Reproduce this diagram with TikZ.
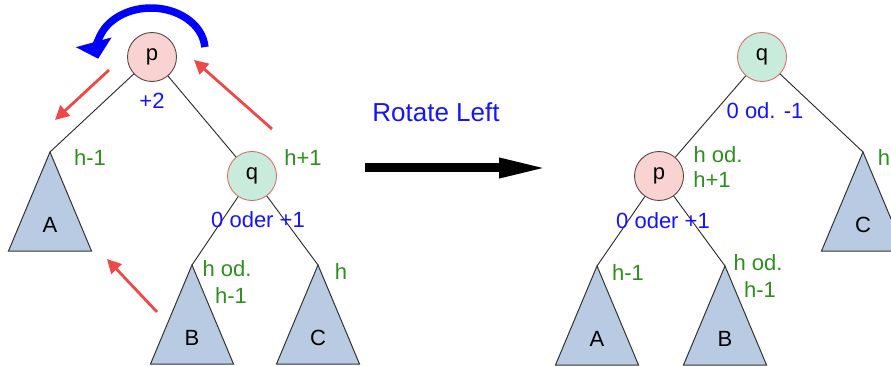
\documentclass[tikz,border=0pt]{standalone}
\usepackage{fontspec}
\setmainfont{Liberation Sans}
\usetikzlibrary{arrows.meta,calc}
\definecolor{pfill}{HTML}{F9D2D2}
\definecolor{pdraw}{HTML}{5A4646}
\definecolor{qfill}{HTML}{C8EBDB}
\definecolor{qdraw}{HTML}{D97070}
\definecolor{trifill}{HTML}{B8CBE3}
\definecolor{tridraw}{HTML}{333333}
\definecolor{lblue}{HTML}{1414FF}
\definecolor{lgreen}{HTML}{2E8E1E}
\definecolor{lred}{HTML}{F04848}
\tikzset{
  lab/.style={font=\fontsize{22}{24}\selectfont, inner sep=0pt},
  pnode/.style={circle, minimum size=49pt, inner sep=0pt, fill=pfill, draw=pdraw, line width=0.9pt, lab},
  qnode/.style={circle, minimum size=49pt, inner sep=0pt, fill=qfill, draw=qdraw, line width=0.9pt, lab},
  tri/.style={fill=trifill, draw=tridraw, line width=1pt, line join=miter},
  edge/.style={draw=black!85, line width=0.9pt},
  bluelab/.style={lab, text=lblue},
  greenlab/.style={lab, text=lgreen},
  redarrow/.style={draw=lred, line width=2.8pt, -{Triangle[length=14pt,width=14pt]}},
}
\newcommand\subtr[4]{%
  \coordinate (#1) at (#2,#3);
  \draw[tri] (#1) -- ++(41.5,99) -- ++(-83,0) -- cycle;
  \node[lab] (#1l) at ($(#1)+(0,73)$) {#4};
}
\begin{document}
\begin{tikzpicture}[x=1pt,y=-1pt]
\useasboundingbox (0,0) rectangle (891,366);
% ---------- left tree ----------
\subtr{A1}{50}{152}{A}
\subtr{B1}{192}{265}{B}
\subtr{C1}{318}{265}{C}
\node[pnode] (p1) at (152,57) {p};
\node[qnode] (q1) at (252,176) {q};
\draw[edge] (p1) -- (A1);
\draw[edge] (p1) -- (q1);
\draw[edge] (q1) -- (B1);
\draw[edge] (q1) -- (C1);
\node[bluelab] (bal1) at (152,101) {+2};
\node[bluelab] (bal2) at (258,220) {0 oder +1};
\node[greenlab] (hA1) at (90,158) {h-1};
\node[greenlab] (hq1) at (303,158) {h+1};
\node[greenlab, align=center] (hB1a) at (227,269) {h od.};
\node[greenlab] (hB1b) at (231,296) {h-1};
\node[greenlab] (hC1) at (341,272) {h};
% red arrows
\coordinate (r1s) at (109,70); \coordinate (r1e) at (55,120);
\coordinate (r2s) at (272,129); \coordinate (r2e) at (194,60);
\coordinate (r3s) at (157,312); \coordinate (r3e) at (107,259);
\draw[redarrow] (r1s) -- (r1e);
\draw[redarrow] (r2s) -- (r2e);
\draw[redarrow] (r3s) -- (r3e);
% blue rotation arc
\coordinate (bs) at ($(151,50)+(-4:54 and 42)$);
\draw[draw=blue, line width=7.5pt, -{Triangle[length=17pt,width=36pt]}]
  (bs) arc[start angle=-4, end angle=-192, x radius=54, y radius=42];
% ---------- middle ----------
\node[lab, text=lblue, font=\fontsize{26}{28}\selectfont] (rot) at (436,112) {Rotate Left};
\coordinate (ms) at (365,168); \coordinate (me) at (549,168);
\draw[line width=9pt, -{Triangle[length=50pt,width=18pt]}] (ms) -- (me);
% ---------- right tree ----------
\subtr{A2}{597}{266}{A}
\subtr{B2}{725}{266}{B}
\subtr{C2}{863}{152}{C}
\node[qnode] (q2) at (762,57) {q};
\node[pnode] (p2) at (659,176) {p};
\draw[edge] (q2) -- (p2);
\draw[edge] (q2) -- (C2);
\draw[edge] (p2) -- (A2);
\draw[edge] (p2) -- (B2);
\node[bluelab] (bal3) at (765,111) {0 od. -1};
\node[bluelab] (bal4) at (663,221) {0 oder +1};
\node[greenlab] (hp2a) at (718,155) {h od.};
\node[greenlab] (hp2b) at (712,180) {h+1};
\node[greenlab] (hA2) at (628,273) {h-1};
\node[greenlab] (hB2a) at (758,263) {h od.};
\node[greenlab] (hB2b) at (760,290) {h-1};
\node[greenlab] (hC2) at (884,158) {h};
\end{tikzpicture}
\end{document}
